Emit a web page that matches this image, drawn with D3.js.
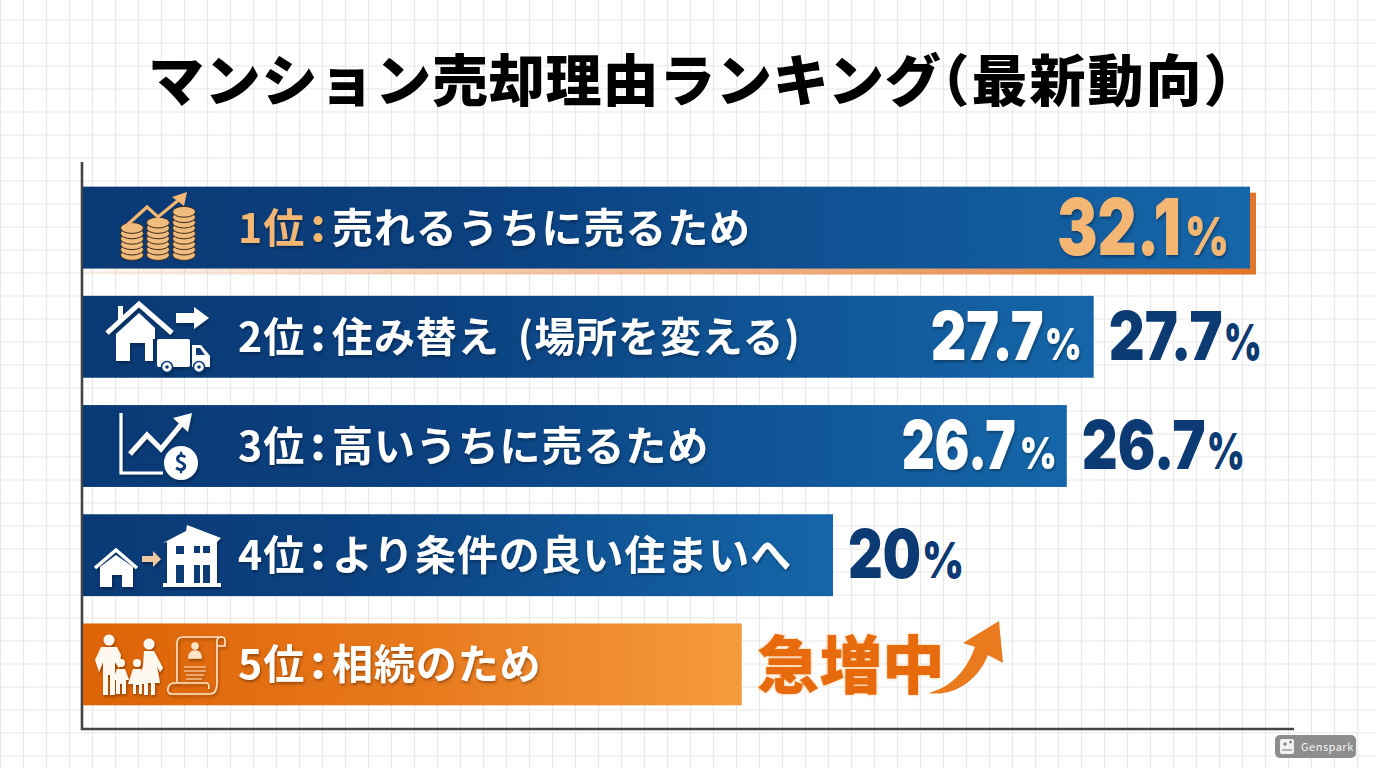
<!DOCTYPE html>
<html lang="ja">
<head>
<meta charset="utf-8">
<title>マンション売却理由ランキング</title>
<script src="https://cdn.jsdelivr.net/npm/d3@7"></script>
<style>
  html, body { margin: 0; padding: 0; background: #fff; }
  svg { display: block; }
  text { font-family: "Noto Sans CJK JP", "Noto Sans", sans-serif; }
  .num { font-family: Inter, Roboto, sans-serif; font-weight: 900; }
</style>
</head>
<body>
<svg id="chart" width="1376" height="768"></svg>
<script>
const titleMain = 'マンション売却理由ランキング';
const titleSub = '（最新動向）';
const ranks = ['1位', '2位', '3位', '4位', '5位'];
const categories = ['売れるうちに売るため', '住み替え (場所を変える)', '高いうちに売るため', 'より条件の良い住まいへ', '相続のため'];
const shownValues = [32.1, 27.7, 26.7, 20, null];
// drawn bar lengths (the bars are not quite proportional to the labels)
const barLengths = [32.1, 27.8, 27.06, 20.63, 18.12];
const insideLabelRows = [0, 1, 2];
const outsideLabelRows = [1, 2, 3];
const surgeLabel = '急増中';

const W = 1376, H = 768;
const svg = d3.select('#chart');
const defs = svg.append('defs');

function gradient(id, stops) {
  const g = defs.append('linearGradient').attr('id', id);
  stops.forEach(s => g.append('stop').attr('offset', s[0]).attr('stop-color', s[1]).attr('stop-opacity', s[2] === undefined ? 1 : s[2]));
}
gradient('navy', [[0, '#0a3a75'], [0.35, '#0b4180'], [1, '#1566a9']]);
gradient('orange', [[0, '#dd6306'], [0.5, '#e8781c'], [1, '#f59b3e']]);
gradient('under', [[0, '#f6b98a', 0.1], [0.25, '#f3b488', 0.6], [1, '#e0762a']]);

const shadow = defs.append('filter').attr('id', 'soft').attr('x', '-10%').attr('y', '-20%').attr('width', '120%').attr('height', '140%');
shadow.append('feDropShadow').attr('dx', 1).attr('dy', 2).attr('stdDeviation', 1.6).attr('flood-color', '#000').attr('flood-opacity', 0.35);
const glow = defs.append('filter').attr('id', 'glow').attr('x', '-10%').attr('y', '-20%').attr('width', '120%').attr('height', '140%');
glow.append('feDropShadow').attr('dx', 0).attr('dy', 0).attr('stdDeviation', 1.5).attr('flood-color', '#f7a24a').attr('flood-opacity', 0.7);

// paper grid
const gridX = d3.range(0.5, W, 23), gridY = d3.range(-3, H, 23);
const grid = svg.append('g').attr('stroke', '#e8e8e8').attr('stroke-width', 1.2);
grid.selectAll('line.v').data(gridX).enter().append('line').attr('class', 'v')
  .attr('x1', d => d).attr('x2', d => d).attr('y1', 0).attr('y2', H);
grid.selectAll('line.h').data(gridY).enter().append('line').attr('class', 'h')
  .attr('y1', d => d).attr('y2', d => d).attr('x1', 0).attr('x2', W);

// title
const title = svg.append('text').attr('x', 148).attr('y', 101)
  .attr('font-size', 56).attr('font-weight', 900).attr('fill', '#000');
title.append('tspan').attr('letter-spacing', 0.8).text(titleMain);
title.append('tspan').attr('dx', -28).attr('letter-spacing', 2).text(titleSub);

// scales
const x = d3.scaleLinear().domain([0, 32.1]).range([83, 1250]);
const y = d3.scaleBand().domain(ranks).range([173, 719]).paddingInner(0.25).paddingOuter(0.125);

// axes
svg.append('path').attr('fill', 'none').attr('stroke', '#444').attr('stroke-width', 2.6)
  .attr('d', 'M82,162V729H1294');

// under-bar accent on the top bar
svg.append('rect').attr('x', x(0)).attr('y', y(ranks[0]) + 6)
  .attr('width', x(barLengths[0]) - x(0) + 6).attr('height', y.bandwidth())
  .attr('fill', 'url(#under)');

// bars
svg.selectAll('rect.bar').data(ranks).enter().append('rect').attr('class', 'bar')
  .attr('x', x(0)).attr('y', d => y(d))
  .attr('width', (d, i) => x(barLengths[i]) - x(0)).attr('height', y.bandwidth())
  .attr('fill', (d, i) => i === 4 ? 'url(#orange)' : 'url(#navy)');

const accent = '#f3b673';

// rank + category text
const rows = svg.selectAll('g.row').data(ranks).enter().append('g').attr('class', 'row')
  .attr('transform', d => `translate(0,${y(d) + y.bandwidth() / 2 + 15})`)
  .attr('font-weight', 700).attr('font-size', 41).attr('filter', 'url(#soft)');
rows.append('text').attr('x', 238).attr('fill', (d, i) => i === 0 ? accent : '#fff').attr('letter-spacing', 1).text(d => d);
rows.append('circle').attr('cx', 318).attr('r', 4.5).attr('cy', -22).attr('fill', (d, i) => i === 0 ? accent : '#fff');
rows.append('circle').attr('cx', 318).attr('r', 4.5).attr('cy', -5).attr('fill', (d, i) => i === 0 ? accent : '#fff');
rows.append('text').attr('x', 332).attr('fill', '#fff').attr('letter-spacing', 0.9).attr('word-spacing', 8).text((d, i) => categories[i]);

// squeeze a text horizontally to a measured width
function fitText(g, str, px, py, size, width) {
  const t = g.append('text').attr('class', 'num').attr('font-size', size).text(str);
  const k = width / t.node().getComputedTextLength();
  t.attr('transform', `translate(${px},${py}) scale(${k},1)`);
  return t;
}

// value labels: number and smaller percent sign
function valueLabel(row, startX, base, numSize, pctSize, numW, gap, pctW, fill, filter) {
  const g = svg.append('g').attr('fill', fill).attr('filter', filter);
  fitText(g, String(shownValues[row]), startX, base, numSize, numW);
  fitText(g, '%', startX + numW + gap, base, pctSize, pctW);
}
const baseOf = r => y(ranks[r]) + y.bandwidth() / 2 + 28;
insideLabelRows.forEach(r => {
  const big = r === 0;
  const numW = big ? 124 : (r === 1 ? 113 : 114);
  const pctW = big ? 44 : 37;
  const gap = r === 1 ? 1 : 4;
  const end = x(barLengths[r]) - (big ? 21 : (r === 1 ? 12 : 10));
  valueLabel(r, end - pctW - gap - numW, baseOf(r) + (big ? -1 : -5), big ? 78 : 68, big ? 52 : 44, numW, gap, pctW, big ? accent : '#fff', 'url(#soft)');
});
outsideLabelRows.forEach(r => {
  const numW = r === 3 ? 73 : (r === 1 ? 114 : 124);
  valueLabel(r, x(barLengths[r]) + 15, baseOf(r) - 5, 68, 50, numW, 1, r === 3 ? 42 : 38, '#0c3a72', null);
});

// surge label + arrow
const surgeY = y(ranks[4]) + y.bandwidth() / 2;
svg.append('text').attr('x', x(barLengths[4]) + 15).attr('y', surgeY + 24)
  .attr('font-size', 63).attr('font-weight', 900).attr('fill', '#e76a10').attr('filter', 'url(#glow)')
  .attr('textLength', 188).attr('lengthAdjust', 'spacingAndGlyphs').text(surgeLabel);
svg.append('path').attr('fill', '#ea7a1e')
  .attr('d', 'M928,693C950,688 966,672 975,647L963,643L999,621L1003,663L988,655C978,680 955,697 928,693Z');

// icons
const ico = svg.append('g');
// 1: coins with rising arrow
[[132, 258, 6], [158, 258, 7], [184, 258, 9]].forEach(s => {
  d3.range(s[2]).forEach(i => {
    ico.append('ellipse').attr('cx', s[0]).attr('cy', s[1] - 3 - i * 5.4).attr('rx', 11.5).attr('ry', 5.4)
      .attr('fill', '#f0bc7e').attr('stroke', '#3b2a1c').attr('stroke-width', 1);
  });
});
ico.append('path').attr('d', 'M126,226L147,207L158,217L181,198').attr('fill', 'none').attr('stroke', accent).attr('stroke-width', 3.2);
ico.append('path').attr('d', 'M172,197L187,192L184,206Z').attr('fill', accent);

// 2: house, arrow, truck
const w2 = ico.append('g').attr('fill', '#fff').attr('filter', 'url(#soft)');
w2.append('path').attr('d', 'M107,333L139,304L172,333').attr('fill', 'none').attr('stroke', '#fff').attr('stroke-width', 5);
w2.append('rect').attr('x', 118).attr('y', 306).attr('width', 5).attr('height', 14);
w2.append('path').attr('d', 'M116,361V334L139,313L155,328V339H153V361H145V343H130V361Z');
w2.append('rect').attr('x', 157).attr('y', 339).attr('width', 33).attr('height', 28).attr('rx', 2);
w2.append('path').attr('d', 'M192,345H201L210,356V367H192Z');
w2.append('path').attr('d', 'M196,348H200L205,355H196Z').attr('fill', '#0b3a75');
[167, 199].forEach(cx => {
  w2.append('circle').attr('cx', cx).attr('cy', 367).attr('r', 5.5).attr('fill', '#fff').attr('stroke', '#0b3a75').attr('stroke-width', 1.5);
  w2.append('circle').attr('cx', cx).attr('cy', 367).attr('r', 1.8).attr('fill', '#0b3a75');
});
w2.append('path').attr('d', 'M176,313H194V307L209,318L194,329V323H176Z');

// 3: chart with dollar
const w3 = ico.append('g').attr('filter', 'url(#soft)');
w3.append('path').attr('d', 'M121,413V473H163').attr('fill', 'none').attr('stroke', '#fff').attr('stroke-width', 3.2);
w3.append('path').attr('d', 'M130,454L147,435L161,449L184,421').attr('fill', 'none').attr('stroke', '#fff').attr('stroke-width', 5);
w3.append('path').attr('d', 'M173,418L192,413L188,432Z').attr('fill', '#fff');
w3.append('circle').attr('cx', 181).attr('cy', 463).attr('r', 17).attr('fill', '#fff');
w3.append('text').attr('x', 181).attr('y', 471).attr('text-anchor', 'middle').attr('font-size', 23).attr('font-weight', 700).attr('fill', '#0b3a75').text('$');

// 4: small house, arrow, big house
const w4 = ico.append('g').attr('fill', '#fff').attr('filter', 'url(#soft)');
w4.append('path').attr('d', 'M95,568L116,550L137,568').attr('fill', 'none').attr('stroke', '#fff').attr('stroke-width', 3.4);
w4.append('path').attr('d', 'M100,587V567L116,555L133,567V587H122V575H112V587Z');
w4.append('path').attr('d', 'M142,556H153V551L161,559L153,567V562H142Z').attr('fill', '#edc8a2');
w4.append('path').attr('d', 'M163,543L186,531L187,525L221,538L217,542V583H221V587H163V583H167V542Z');
[[176, 546, 8, 8], [194, 546, 6, 7], [203, 546, 7, 7], [176, 565, 8, 18], [194, 565, 6, 18], [203, 565, 7, 18]].forEach(w => {
  w4.append('rect').attr('x', w[0]).attr('y', w[1]).attr('width', w[2]).attr('height', w[3]).attr('fill', '#0b3a75');
});

// 5: family and will
const w5 = ico.append('g').attr('fill', '#fff8ef').attr('filter', 'url(#soft)');
[[109, 640, 5.5], [149, 644, 5.5], [121, 663, 4], [137, 663, 4]].forEach(c => {
  w5.append('circle').attr('cx', c[0]).attr('cy', c[1]).attr('r', c[2]);
});
w5.append('path').attr('d', 'M101,647H117L121,655L119,668L115,662V695H110V675H108V695H103V662L99,672L95,660Z');
w5.append('path').attr('d', 'M144,651H154L163,668L160,672L157,666L160,683H155V695H151V683H148V695H144V683H138L143,666Z');
w5.append('path').attr('d', 'M117,669H125L129,680H126V694H122V684H120V694H116V680H113Z');
w5.append('path').attr('d', 'M133,669H141L146,684H142V694H139V685H136V694H133V684H128Z');
const scroll = ico.append('g').attr('fill', 'none').attr('stroke', '#fbe3c8').attr('stroke-width', 1.6).attr('filter', 'url(#soft)');
scroll.append('path').attr('d', 'M177,683V643Q177,637 183,637H222Q225,637 225,641V646H217M217,641V683Q217,694 210,694H172Q167,694 168,688Q169,683 175,683H207Q209,683 209,689');
scroll.append('path').attr('d', 'M217,641Q217,637 222,637');
scroll.append('path').attr('d', 'M184,667H206M184,671H206M186,675H204M186,679H202').attr('stroke-width', 1.2);
scroll.append('circle').attr('cx', 195).attr('cy', 646).attr('r', 3).attr('fill', '#fbe3c8');
scroll.append('path').attr('d', 'M189,658Q189,651 195,651Q201,651 201,658Z').attr('fill', '#fbe3c8');

// watermark
const wm = svg.append('g');
wm.append('rect').attr('x', 1275).attr('y', 735).attr('width', 81).attr('height', 23).attr('rx', 5).attr('fill', '#8d8d8d');
wm.append('rect').attr('x', 1280).attr('y', 739).attr('width', 14).attr('height', 15).attr('rx', 2).attr('fill', '#f2f2f2');
wm.append('path').attr('d', 'M1283,744H1287M1285,742V746M1289,742H1292M1290.5,740.5V743.5M1282,750H1292').attr('stroke', '#777').attr('stroke-width', 1.2);
wm.append('text').attr('x', 1301).attr('y', 751).attr('font-size', 11).attr('fill', '#f4f4f4')
  .attr('font-family', 'Roboto, sans-serif').attr('letter-spacing', 0.5).text('Genspark');
</script>
</body>
</html>
